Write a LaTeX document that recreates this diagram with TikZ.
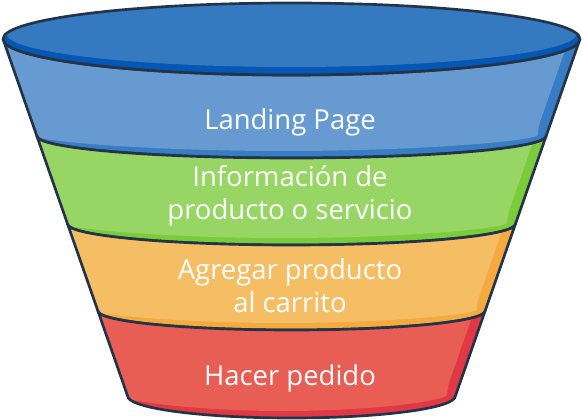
\documentclass[tikz,border=0pt]{standalone}
\usepackage{fontspec}
\usepackage{tikz}
\newfontfamily\stagefont{Open Sans}

\definecolor{outlinenavy}{RGB}{35,52,72}
\definecolor{toplight}{RGB}{53,122,193}
\definecolor{toprim}{RGB}{4,87,180}
\definecolor{bluelight}{RGB}{102,154,208}
\definecolor{bluedark}{RGB}{56,124,196}
\definecolor{greenlight}{RGB}{151,214,101}
\definecolor{greendark}{RGB}{122,204,58}
\definecolor{orangelight}{RGB}{245,189,100}
\definecolor{orangedark}{RGB}{244,170,62}
\definecolor{redlight}{RGB}{232,94,84}
\definecolor{reddark}{RGB}{224,56,68}

\begin{document}
\begin{tikzpicture}[x=0.75pt,y=0.75pt,yscale=-1,xscale=1,
  rim/.style={draw=outlinenavy, line width=2pt, line join=round},
  stagetext/.style={text=white, inner sep=0.75pt, align=center,
    font=\stagefont\fontsize{20.6}{25}\selectfont}]
\useasboundingbox (0,0) rectangle (582,420);

%Shape: Landing band [id:blue]
\begin{scope}
\clip (3,39) arc[start angle=180, end angle=0, x radius=288.5, y radius=36] -- (546.15,136) arc[start angle=0, end angle=180, x radius=254.65, y radius=22] -- cycle;
\fill [bluedark] (0,0) rectangle (582,200);
\fill [bluelight, rounded corners=5] (-40,0) -- (582.6,0) -- (537.94,128) arc[start angle=0, end angle=180, x radius=253.97, y radius=23] -- cycle;
\end{scope}
\draw [rim] (3,39) arc[start angle=180, end angle=0, x radius=288.5, y radius=36] -- (546.15,136) arc[start angle=0, end angle=180, x radius=254.65, y radius=22] -- cycle;

%Shape: Informacion band [id:green]
\begin{scope}
\clip (36.85,136) arc[start angle=180, end angle=0, x radius=254.65, y radius=22] -- (515.43,224) arc[start angle=0, end angle=180, x radius=223.93, y radius=21] -- cycle;
\fill [greendark] (0,100) rectangle (582,270);
\fill [greenlight, rounded corners=5] (-40,100) -- (547.71,100) -- (507.23,216) arc[start angle=0, end angle=180, x radius=223.6, y radius=22] -- cycle;
\end{scope}
\draw [rim] (36.85,136) arc[start angle=180, end angle=0, x radius=254.65, y radius=22] -- (515.43,224) arc[start angle=0, end angle=180, x radius=223.93, y radius=21] -- cycle;

%Shape: Agregar band [id:orange]
\begin{scope}
\clip (67.57,224) arc[start angle=180, end angle=0, x radius=223.93, y radius=21] -- (485.07,311) arc[start angle=0, end angle=180, x radius=193.57, y radius=19] -- cycle;
\fill [orangedark] (0,190) rectangle (582,350);
\fill [orangelight, rounded corners=5] (-40,190) -- (516.3,190) -- (476.86,303) arc[start angle=0, end angle=180, x radius=193.43, y radius=20] -- cycle;
\end{scope}
\draw [rim] (67.57,224) arc[start angle=180, end angle=0, x radius=223.93, y radius=21] -- (485.07,311) arc[start angle=0, end angle=180, x radius=193.57, y radius=19] -- cycle;

%Shape: Hacer band [id:red]
\begin{scope}
\clip (97.93,311) arc[start angle=180, end angle=0, x radius=193.57, y radius=19] -- (455.4,396) arc[start angle=0, end angle=180, x radius=163.9, y radius=22] -- cycle;
\fill [reddark] (0,280) rectangle (582,420);
\fill [redlight, rounded corners=5] (-40,280) -- (484.9,280) -- (447.2,388) arc[start angle=0, end angle=180, x radius=163.6, y radius=23] -- cycle;
\end{scope}
\draw [rim] (97.93,311) arc[start angle=180, end angle=0, x radius=193.57, y radius=19] -- (455.4,396) arc[start angle=0, end angle=180, x radius=163.9, y radius=22] -- cycle;

%Shape: Ellipse [id:top]
\fill [toprim] (291.5,39) ellipse [x radius=288.5, y radius=36];
\begin{scope}
\clip (291.5,39) ellipse [x radius=288.5, y radius=36];
\fill [toplight] (291.5,34) ellipse [x radius=285, y radius=33];
\end{scope}
\draw [rim] (291.5,39) ellipse [x radius=288.5, y radius=36];

% Text Node
\node (landing) [stagetext, anchor=base] at (290,130) {Landing Page};
% Text Node
\node (info) [stagetext, anchor=base] at (290,220) {Información de\\producto o servicio};
% Text Node
\node (agregar) [stagetext, anchor=base] at (290,313) {Agregar producto\\al carrito};
% Text Node
\node (hacer) [stagetext, anchor=base] at (290,385) {Hacer pedido};

\end{tikzpicture}
\end{document}
